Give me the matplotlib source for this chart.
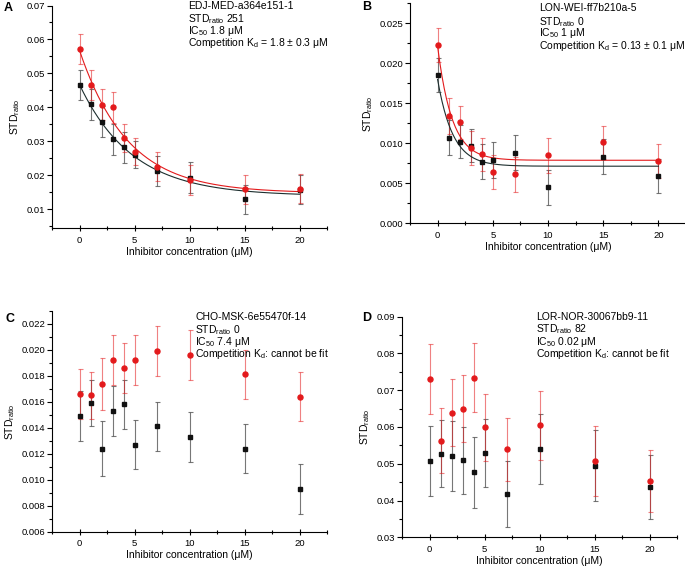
import numpy as np
import matplotlib.pyplot as plt
from matplotlib.ticker import MultipleLocator

plt.rcParams['font.family'] = ['Liberation Sans', 'DejaVu Sans']
plt.rcParams['mathtext.fontset'] = 'custom'
plt.rcParams['mathtext.rm'] = 'Liberation Sans'

# --- Data ---
conc = [0, 1, 2, 3, 4, 5, 7, 10, 15, 20]

a_red = [0.0572, 0.0466, 0.0408, 0.0400, 0.0310, 0.0270, 0.0226, 0.0186, 0.0159, 0.0161]
a_red_err = [0.0045, 0.0045, 0.0045, 0.0045, 0.0040, 0.0040, 0.0043, 0.0045, 0.0043, 0.0043]
a_blk = [0.0466, 0.0409, 0.0358, 0.0306, 0.0282, 0.0261, 0.0213, 0.0193, 0.0130, 0.0158]
a_blk_err = [0.0045, 0.0045, 0.0045, 0.0045, 0.0045, 0.0040, 0.0043, 0.0045, 0.0043, 0.0043]

b_red = [0.0223, 0.0134, 0.0126, 0.0094, 0.0086, 0.0064, 0.0061, 0.0085, 0.0101, 0.0078]
b_red_err = [0.0021, 0.0022, 0.0021, 0.0021, 0.0021, 0.0021, 0.0022, 0.0022, 0.0021, 0.0021]
b_blk = [0.0185, 0.0107, 0.0102, 0.0097, 0.0077, 0.0079, 0.0088, 0.0045, 0.0083, 0.0059]
b_blk_err = [0.0021, 0.0022, 0.0021, 0.0021, 0.0022, 0.0022, 0.0022, 0.0022, 0.0022, 0.0021]

c_red = [0.0166, 0.0165, 0.0174, 0.0192, 0.0186, 0.0192, 0.0199, 0.0196, 0.0181, 0.0164]
c_red_err = [0.0019, 0.0018, 0.0020, 0.0019, 0.0019, 0.0019, 0.0019, 0.0019, 0.0019, 0.0019]
c_blk = [0.0149, 0.0159, 0.0124, 0.0153, 0.0158, 0.0127, 0.0141, 0.0133, 0.0124, 0.0093]
c_blk_err = [0.0019, 0.0018, 0.0021, 0.0019, 0.0019, 0.0019, 0.0019, 0.0019, 0.0019, 0.0019]

d_red = [0.0730, 0.0563, 0.0639, 0.0650, 0.0734, 0.0599, 0.0539, 0.0605, 0.0507, 0.0453]
d_red_err = [0.0096, 0.0089, 0.0091, 0.0091, 0.0094, 0.0091, 0.0086, 0.0094, 0.0095, 0.0085]
d_blk = [0.0508, 0.0527, 0.0521, 0.0509, 0.0477, 0.0529, 0.0417, 0.0540, 0.0495, 0.0437]
d_blk_err = [0.0096, 0.0091, 0.0095, 0.0092, 0.0096, 0.0093, 0.0090, 0.0095, 0.0097, 0.0087]

labels_a = ['EDJ-MED-a364e151-1', r'STD$_{\mathregular{ratio}}$ 251', r'IC$_{\mathregular{50}}$ 1.8 μM',
            r'Competition K$_{\mathregular{d}}$ = 1.8 ± 0.3 μM']
labels_b = ['LON-WEI-ff7b210a-5', r'STD$_{\mathregular{ratio}}$ 0', r'IC$_{\mathregular{50}}$ 1 μM',
            r'Competition K$_{\mathregular{d}}$ = 0.13 ± 0.1 μM']
labels_c = ['CHO-MSK-6e55470f-14', r'STD$_{\mathregular{ratio}}$ 0', r'IC$_{\mathregular{50}}$ 7.4 μM',
            r'Competition K$_{\mathregular{d}}$: cannot be fit']
labels_d = ['LOR-NOR-30067bb9-11', r'STD$_{\mathregular{ratio}}$ 82', r'IC$_{\mathregular{50}}$ 0.02 μM',
            r'Competition K$_{\mathregular{d}}$: cannot be fit']

RED = '#e31a1c'
BLK = '#111111'
W, H = 685, 568


def exp_fit(x, y):
    # y = A*exp(-x/tau) + c, grid over tau, linear lsq for A, c
    x = np.asarray(x, float)
    y = np.asarray(y, float)
    best = None
    for tau in np.linspace(0.3, 15, 600):
        M = np.column_stack([np.exp(-x / tau), np.ones_like(x)])
        coef, res, _, _ = np.linalg.lstsq(M, y, rcond=None)
        r = np.sum((M @ coef - y) ** 2)
        if best is None or r < best[0]:
            best = (r, tau, coef)
    _, tau, (A, c) = best
    xs = np.linspace(0, 20, 300)
    return xs, A * np.exp(-xs / tau) + c


def make_axes(left, top, right, bottom):
    return fig.add_axes([left / W, 1 - bottom / H, (right - left) / W, (bottom - top) / H])


def style(ax, ylim, ymaj, yfmt):
    ax.set_xlim(-2.5, 22.5)
    ax.set_ylim(*ylim)
    ax.spines['top'].set_visible(False)
    ax.spines['right'].set_visible(False)
    for s in ['left', 'bottom']:
        ax.spines[s].set_linewidth(0.8)
    ax.xaxis.set_major_locator(MultipleLocator(5))
    ax.xaxis.set_minor_locator(MultipleLocator(2.5))
    ax.yaxis.set_major_locator(MultipleLocator(ymaj))
    ax.yaxis.set_minor_locator(MultipleLocator(ymaj / 2))
    ax.yaxis.set_major_formatter(plt.FormatStrFormatter(yfmt))
    ax.tick_params(axis='x', which='major', direction='inout', length=4, width=0.8, labelsize=6.8, pad=3.5)
    ax.tick_params(axis='x', which='minor', direction='inout', length=2.5, width=0.8)
    ax.tick_params(axis='y', which='major', direction='out', length=3.5, width=0.8, labelsize=6.8, pad=1.5)
    ax.tick_params(axis='y', which='minor', direction='out', length=2, width=0.8)
    ax.set_xlabel('Inhibitor concentration (μM)', fontsize=7.5, labelpad=1.5)
    ax.set_ylabel(r'STD$_{\mathregular{ratio}}$', fontsize=7.5, labelpad=3)
    ax.patch.set_alpha(0)


def draw(ax, red, red_err, blk, blk_err, fit):
    ax.errorbar(conc, blk, yerr=blk_err, fmt='none', ecolor='#555555', elinewidth=0.8,
                capsize=1.8, capthick=0.8, alpha=0.8, zorder=2)
    ax.errorbar(conc, red, yerr=red_err, fmt='none', ecolor=RED, elinewidth=0.8,
                capsize=1.8, capthick=0.8, alpha=0.55, zorder=2)
    if fit:
        xs, ys = exp_fit(conc, blk)
        ax.plot(xs, ys, color='#1c2e2e', lw=0.8, zorder=3)
        xs, ys = exp_fit(conc, red)
        ax.plot(xs, ys, color=RED, lw=0.8, zorder=3)
    ax.plot(conc, blk, 's', color=BLK, ms=3.3, zorder=4)
    ax.plot(conc, red, 'o', color=RED, ms=3.6, zorder=5)


def annotate(x, ys, lines):
    for y, t in zip(ys, lines):
        fig.text(x / W, 1 - y / H, t, fontsize=7.5, va='center', ha='left')


fig = plt.figure(figsize=(6.85, 5.68), dpi=100)

axA = make_axes(52, 5.5, 327, 228)
draw(axA, a_red, a_red_err, a_blk, a_blk_err, True)
style(axA, (0.0045, 0.07), 0.01, '%.2f')

axB = make_axes(410, 3.3, 686, 223.3)
draw(axB, b_red, b_red_err, b_blk, b_blk_err, True)
style(axB, (0.0, 0.0275), 0.005, '%.3f')

axC = make_axes(52, 310.7, 327, 531.7)
draw(axC, c_red, c_red_err, c_blk, c_blk_err, False)
style(axC, (0.006, 0.023), 0.002, '%.3f')

axD = make_axes(402, 316.7, 677, 537.3)
draw(axD, d_red, d_red_err, d_blk, d_blk_err, False)
style(axD, (0.03, 0.09), 0.01, '%.2f')

annotate(188, [6, 19, 31.5, 43.5], labels_a)
annotate(539, [8.3, 21.7, 33.3, 46], labels_b)
annotate(195, [316.7, 330, 341.7, 354], labels_c)
annotate(536, [316.7, 329.3, 341.7, 354], labels_d)

for letter, x, y in [('A', 4, 8), ('B', 362, 7), ('C', 5, 319), ('D', 362, 318)]:
    fig.text(x / W, 1 - y / H, letter, fontsize=9, fontweight='bold', va='center', ha='left')

fig.savefig('out.png', dpi=100)
